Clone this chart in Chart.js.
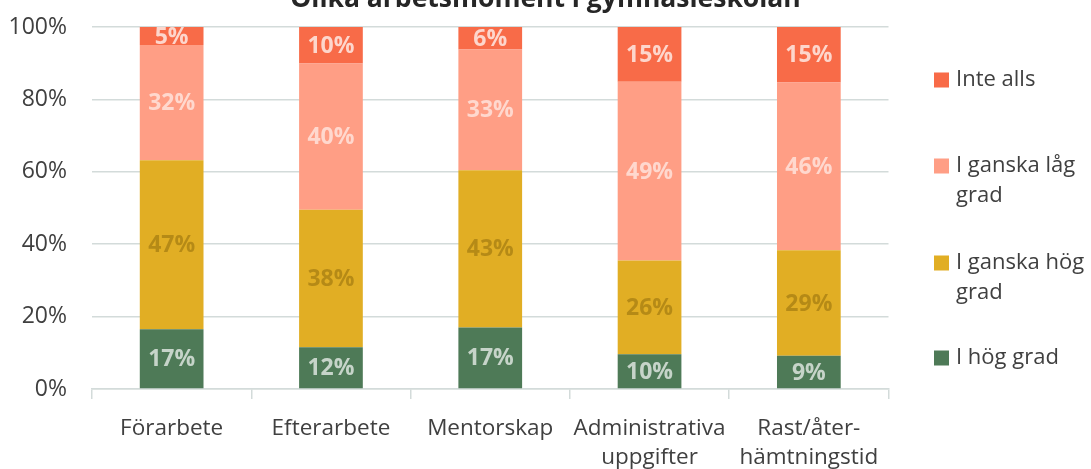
<!DOCTYPE html>
<html>
<head>
<meta charset="utf-8">
<script src="https://cdn.jsdelivr.net/npm/chart.js@4/dist/chart.umd.min.js"></script>
<style>
  html, body { margin: 0; padding: 0; background: #ffffff; }
  #wrap { width: 1091px; height: 469px; position: relative; }
</style>
</head>
<body>
<div id="wrap"><canvas id="c" width="1091" height="469"></canvas></div>
<script>
const titleText = 'Olika arbetsmoment i gymnasieskolan';
const categories = ['Förarbete', 'Efterarbete', 'Mentorskap', ['Administrativa', 'uppgifter'], ['Rast/åter-', 'hämtningstid']];
const seriesNames = ['I hög grad', 'I ganska hög grad', 'I ganska låg grad', 'Inte alls'];
const legendLines = [['I hög grad'], ['I ganska hög', 'grad'], ['I ganska låg', 'grad'], ['Inte alls']];
const iHogGrad       = [16.5, 11.5, 17.0,  9.6,  9.2];
const iGanskaHogGrad = [46.7, 38.0, 43.4, 25.9, 29.1];
const iGanskaLagGrad = [31.8, 40.4, 33.4, 49.4, 46.4];
const inteAlls       = [ 5.0, 10.1,  6.2, 15.1, 15.3];
const valueLabels = [
  ['17%', '12%', '17%', '10%', '9%'],
  ['47%', '38%', '43%', '26%', '29%'],
  ['32%', '40%', '33%', '49%', '46%'],
  ['5%', '10%', '6%', '15%', '15%']
];
const yTicks = [0, 20, 40, 60, 80, 100];

const colors = ['#4e7a57', '#e1ae24', '#ff9e85', '#f86b48'];
const labelColors = ['rgba(255,255,255,0.68)', 'rgba(110,80,0,0.38)', 'rgba(255,255,255,0.6)', 'rgba(255,255,255,0.72)'];
const FONT = "'Open Sans', 'Noto Sans', sans-serif";
const textColor = '#404040';
const gridColor = '#d3dbda';

const seriesData = [iHogGrad, iGanskaHogGrad, iGanskaLagGrad, inteAlls];

const titlePlugin = {
  id: 'clippedTitle',
  afterDraw(chart) {
    const ctx = chart.ctx;
    ctx.save();
    ctx.font = "bold 26.5px " + FONT;
    ctx.fillStyle = '#262626';
    ctx.textAlign = 'center';
    ctx.textBaseline = 'alphabetic';
    ctx.fillText(titleText, chart.width / 2, 7);
    ctx.restore();
  }
};

const valueLabelPlugin = {
  id: 'valueLabels',
  afterDatasetsDraw(chart) {
    const ctx = chart.ctx;
    ctx.save();
    ctx.font = "bold 23px " + FONT;
    ctx.textAlign = 'center';
    ctx.textBaseline = 'middle';
    chart.data.datasets.forEach((ds, di) => {
      const meta = chart.getDatasetMeta(di);
      meta.data.forEach((el, i) => {
        ctx.fillStyle = labelColors[di];
        ctx.fillText(valueLabels[di][i], el.x, (el.y + el.base) / 2 + 1);
      });
    });
    ctx.restore();
  }
};

const legendPlugin = {
  id: 'sideLegend',
  afterDraw(chart) {
    const ctx = chart.ctx;
    const boxX = 934, textX = 956, box = 15, lineH = 30;
    const centers = [358, 263, 166, 80];
    ctx.save();
    ctx.font = "22px " + FONT;
    ctx.textAlign = 'left';
    ctx.textBaseline = 'middle';
    for (let i = 0; i < seriesNames.length; i++) {
      const cy = centers[i];
      ctx.fillStyle = colors[i];
      ctx.fillRect(boxX, cy - box / 2, box, box);
      ctx.fillStyle = textColor;
      legendLines[i].forEach((ln, k) => ctx.fillText(ln, textX, cy + k * lineH));
    }
    ctx.restore();
  }
};

new Chart(document.getElementById('c'), {
  type: 'bar',
  data: {
    labels: categories,
    datasets: seriesNames.map((name, i) => ({
      label: name,
      data: seriesData[i],
      backgroundColor: colors[i],
      borderWidth: 0,
      categoryPercentage: 1.0,
      barPercentage: 0.4
    }))
  },
  options: {
    responsive: false,
    animation: false,
    layout: { padding: { top: 27, right: 202.5, left: 0, bottom: 0 } },
    plugins: {
      legend: { display: false },
      title: { display: false },
      tooltip: { enabled: false }
    },
    scales: {
      x: {
        stacked: true,
        afterFit(scale) { scale.height = 80; },
        grid: { drawOnChartArea: false, drawTicks: true, tickLength: 10, color: gridColor, lineWidth: 1.5, offset: true },
        border: { display: true, color: gridColor, width: 1.5 },
        ticks: { color: textColor, font: { family: FONT, size: 22.5, lineHeight: 1.25 }, padding: 16, maxRotation: 0, autoSkip: false }
      },
      y: {
        stacked: true,
        min: 0,
        max: 100,
        afterFit(scale) { scale.width = 92; scale.paddingTop = 0; scale.paddingBottom = 0; },
        afterBuildTicks(scale) { scale.ticks = yTicks.map(v => ({ value: v })); },
        grid: { drawTicks: false, color: gridColor, lineWidth: 1.5 },
        border: { display: false },
        ticks: { color: textColor, font: { family: FONT, size: 23 }, padding: 25, callback: v => v + '%' }
      }
    }
  },
  plugins: [titlePlugin, valueLabelPlugin, legendPlugin]
});
</script>
</body>
</html>
